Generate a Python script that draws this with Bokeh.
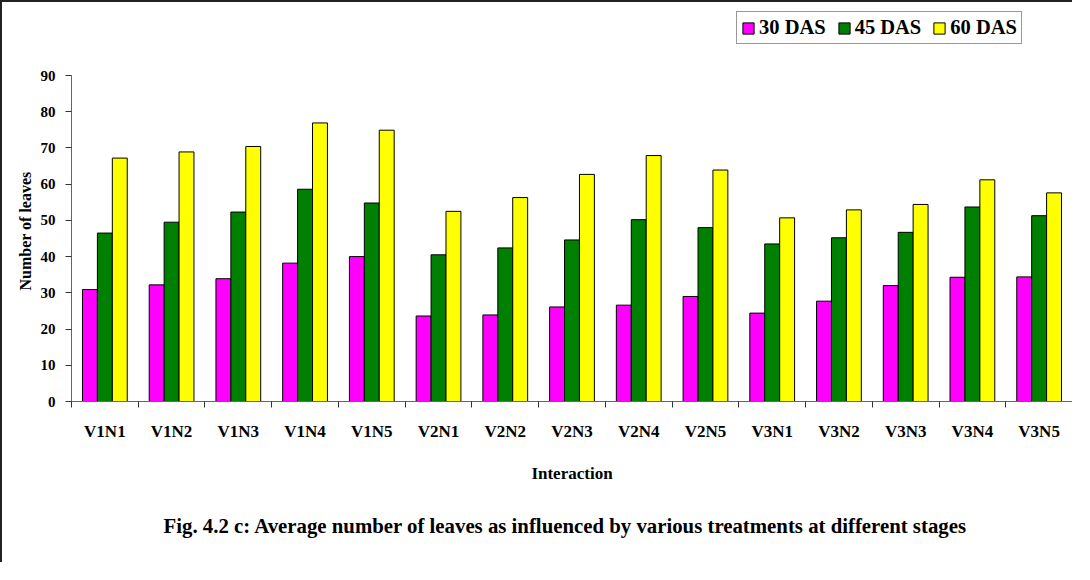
from bokeh.plotting import figure
from bokeh.models import (ColumnDataSource, Range1d, LinearAxis,
                          FixedTicker, Legend, LegendItem, Title)
from bokeh.transform import dodge
from bokeh.embed import file_html
from bokeh.resources import INLINE

# ---- data ----
treatments = ["V1N1", "V1N2", "V1N3", "V1N4", "V1N5",
              "V2N1", "V2N2", "V2N3", "V2N4", "V2N5",
              "V3N1", "V3N2", "V3N3", "V3N4", "V3N5"]
das30 = [30.9, 32.2, 33.9, 38.2, 40.0, 23.6, 23.9, 26.1, 26.6, 29.0, 24.4, 27.7, 32.0, 34.3, 34.4]
das45 = [46.5, 49.5, 52.3, 58.6, 54.8, 40.5, 42.4, 44.6, 50.2, 48.0, 43.5, 45.2, 46.7, 53.7, 51.3]
das60 = [67.2, 68.9, 70.4, 76.9, 74.9, 52.5, 56.3, 62.7, 67.9, 63.9, 50.7, 52.9, 54.4, 61.2, 57.6]
series_names = ["30 DAS", "45 DAS", "60 DAS"]
series_fields = ["d30", "d45", "d60"]
series_colors = ["#FF00FF", "#008000", "#FFFF00"]
y_ticks = [0, 10, 20, 30, 40, 50, 60, 70, 80, 90]
x_title = "Interaction"
y_title = "Number of leaves"
caption = "Fig. 4.2 c: Average number of leaves as influenced by various treatments at different stages"

FONT = "Liberation Serif"

n = len(treatments)
centers = [i + 0.5 for i in range(n)]
bounds = list(range(n + 1))
src = ColumnDataSource(dict(x=centers, t=treatments, d30=das30, d45=das45, d60=das60))

# frame spans from the legend top down to the x axis; the value axis stops at 90
FRAME_TOP = 9
FRAME_BOTTOM = 399
AXIS_TOP = 73
ymax = y_ticks[-1]
y_end = ymax * (FRAME_BOTTOM - FRAME_TOP) / (FRAME_BOTTOM - AXIS_TOP)

p = figure(x_range=Range1d(0, n), y_range=Range1d(0, y_end),
           width=1072, height=562, output_backend="svg", toolbar_location=None,
           x_axis_location=None,
           min_border_left=69, min_border_right=2, min_border_top=FRAME_TOP,
           min_border_bottom=562 - FRAME_BOTTOM)
p.styles = {"border-left": "2px solid #222222", "border-top": "2px solid #222222"}
p.outline_line_color = None
p.xgrid.grid_line_color = None
p.ygrid.grid_line_color = None
p.background_fill_color = "white"
p.border_fill_color = "white"

# bars
bw = 0.2236
offsets = [-bw, 0.0, bw]
renderers = []
for f, c, off in zip(series_fields, series_colors, offsets):
    r = p.vbar(x=dodge("x", off), top=f, width=bw, bottom=0, source=src,
               fill_color=c, line_color="black", line_width=1)
    renderers.append(r)

# y axis
ya = p.yaxis[0]
ya.ticker = FixedTicker(ticks=y_ticks)
ya.bounds = (0, ymax)
ya.minor_tick_line_color = None
ya.major_tick_in = 0
ya.major_tick_out = 6
ya.axis_line_color = "#666666"
ya.major_tick_line_color = "#333333"
ya.major_label_text_font = FONT
ya.major_label_text_font_style = "bold"
ya.major_label_text_font_size = "15px"
ya.major_label_text_color = "black"
ya.major_label_standoff = 10

# y axis title, placed along the 0-90 span of the axis
ytitle = Title(text=y_title, align="left", offset=111, standoff=8,
               text_font=FONT, text_font_style="bold", text_font_size="16px", text_color="black")
p.add_layout(ytitle, "left")

# x axis: labels at category centres, tick marks (minor) at category boundaries
xa = LinearAxis(ticker=FixedTicker(ticks=centers, minor_ticks=bounds))
xa.major_label_overrides = {c: t for c, t in zip(centers, treatments)}
xa.axis_line_color = "#666666"
xa.major_tick_line_color = None
xa.major_tick_out = 0
xa.major_tick_in = 0
xa.minor_tick_line_color = "#333333"
xa.minor_tick_out = 6
xa.minor_tick_in = 0
xa.major_label_text_font = FONT
xa.major_label_text_font_style = "bold"
xa.major_label_text_font_size = "17px"
xa.major_label_text_color = "black"
xa.major_label_standoff = 14
xa.axis_label = x_title
xa.axis_label_text_font = FONT
xa.axis_label_text_font_style = "bold"
xa.axis_label_text_font_size = "17px"
xa.axis_label_text_color = "black"
xa.axis_label_standoff = 20
p.add_layout(xa, "below")

cap = Title(text=caption, align="left", text_font=FONT, text_font_style="bold",
            text_font_size="20.8px", text_color="black", standoff=53, offset=92)
p.add_layout(cap, "below")

legend = Legend(items=[LegendItem(label=nm, renderers=[r]) for nm, r in zip(series_names, renderers)],
                location=(665, 357), orientation="horizontal")
legend.label_text_font = FONT
legend.label_text_font_style = "bold"
legend.label_text_font_size = "20.5px"
legend.label_text_color = "black"
legend.border_line_color = "#333333"
legend.border_line_width = 1
legend.background_fill_color = "white"
legend.background_fill_alpha = 1
legend.padding = 4
legend.spacing = 11
legend.glyph_width = 14
legend.glyph_height = 14
legend.label_standoff = 4
legend.margin = 0
p.add_layout(legend)

open("out.html", "w").write(file_html(p, INLINE))
